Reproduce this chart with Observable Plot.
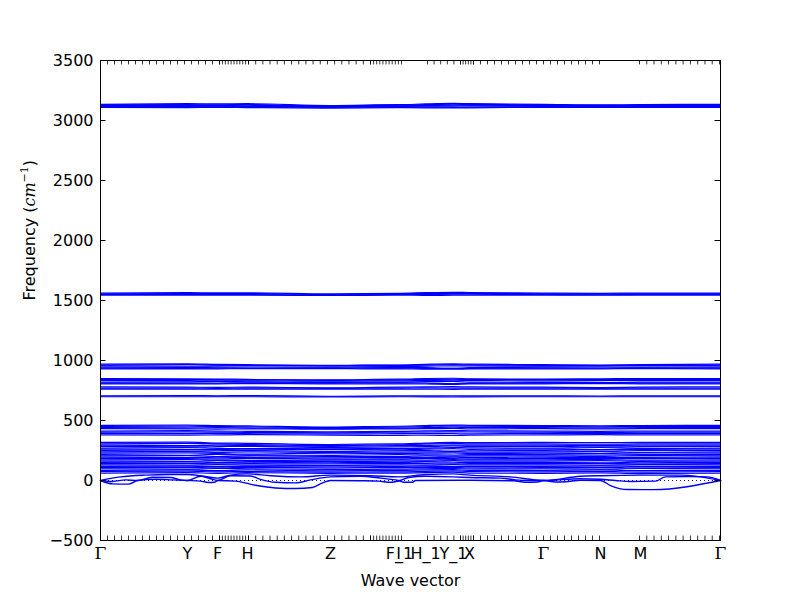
<!DOCTYPE html>
<html><head><meta charset="utf-8">
<script src="https://cdn.jsdelivr.net/npm/d3@7"></script>
<script src="https://cdn.jsdelivr.net/npm/@observablehq/plot@0.6"></script>
<style>body{margin:0;background:#fff}#chart{width:800px;height:600px}</style>
</head><body><div id="chart"></div>
<script>
// high-symmetry points (path distance) and labels
const qPos = [0, 0.87, 1.17, 1.47, 2.30, 2.98, 2.99, 3.25, 3.53, 3.69, 4.43, 5.00, 5.40, 6.20];
const qLabels = ["Γ","Y","F","H","Z","I","F_1","H_1","Y_1","X","Γ","N","M","Γ"];
const yTicks = [-500, 0, 500, 1000, 1500, 2000, 2500, 3000, 3500];
// q-point tick segments: [start, end, intervals]
const tickSegments = [[0,1.19,17],[1.19,1.48,10],[1.48,2.70,17],[2.70,3.01,10],[3.27,3.60,5],[3.60,3.73,5],[3.73,4.99,18],[5.39,6.19,11]];

// band frequencies (cm^-1) at the high-symmetry points
const bandsCH = [
  [3135,3140,3138,3140,3125,3132,3132,3138,3142,3140,3135,3130,3132,3135],
  [3130,3132,3130,3133,3120,3128,3128,3132,3136,3134,3130,3126,3128,3130],
  [3125,3126,3126,3127,3118,3122,3122,3125,3128,3128,3125,3122,3124,3125],
  [3120,3118,3120,3118,3115,3118,3118,3120,3120,3122,3120,3118,3120,3120],
  [3115,3112,3114,3112,3110,3114,3114,3112,3110,3112,3115,3114,3115,3115],
  [3110,3108,3110,3108,3103,3108,3108,3106,3104,3106,3110,3110,3110,3110]
];
const bandsCC = [
  [1562,1565,1563,1564,1555,1560,1560,1565,1568,1566,1562,1560,1562,1562],
  [1556,1558,1557,1558,1550,1555,1555,1558,1560,1560,1556,1554,1556,1556],
  [1550,1550,1550,1550,1546,1550,1550,1550,1552,1552,1550,1548,1550,1550],
  [1545,1544,1545,1544,1542,1545,1545,1543,1544,1545,1545,1544,1545,1545]
];
const bands950 = [
  [970,972,968,965,960,962,962,968,972,970,965,962,965,970],
  [962,965,962,960,958,960,960,962,965,963,960,958,960,962],
  [956,952,955,958,955,950,950,953,956,955,952,955,958,956],
  [945,942,944,946,945,942,942,940,935,940,944,946,945,945],
  [936,935,936,937,938,936,936,935,934,935,936,937,938,936],
  [930,930,931,932,932,930,930,928,928,929,930,931,932,930]
];
const bands820 = [
  [850,848,846,842,838,845,845,850,852,848,845,848,850,850],
  [842,840,840,838,835,838,838,842,845,842,840,840,842,842],
  [835,832,830,830,828,830,830,834,836,834,830,832,835,835],
  [820,822,825,822,818,820,820,824,826,820,818,816,820,820],
  [812,812,812,814,812,814,814,812,808,810,812,814,812,812],
  [805,806,806,808,805,806,806,804,800,804,806,808,806,805]
];
const bands770 = [
  [780,778,776,778,772,778,778,780,782,780,778,775,778,780],
  [770,770,768,770,768,770,770,772,770,770,770,768,770,770],
  [762,762,762,762,762,762,762,762,760,762,762,762,762,762],
  [705,708,706,708,702,705,705,706,706,706,705,704,705,705],
  [698,698,698,698,697,698,698,697,696,697,698,698,698,698]
];
const bands420 = [
  [460,462,458,455,445,452,452,458,462,460,458,455,458,460],
  [450,452,450,448,440,445,445,450,455,452,450,448,450,450],
  [440,438,440,438,432,436,436,440,444,442,440,438,440,440],
  [432,430,428,430,428,430,430,432,434,430,432,430,432,432],
  [412,415,412,410,405,410,410,414,416,414,412,410,412,412],
  [402,405,402,400,398,402,402,404,406,404,402,400,402,402],
  [392,390,392,390,388,390,390,392,390,388,392,390,392,392],
  [380,378,380,382,378,376,376,378,375,378,380,382,380,380]
];
const bandsLow = [
  [318,320,312,310,300,305,305,312,318,315,318,315,318,318],
  [305,310,305,300,292,298,298,305,308,305,305,302,305,305],
  [295,290,295,292,285,290,290,292,296,294,295,292,295,295],
  [285,280,282,285,275,280,280,282,288,285,285,280,282,285],
  [270,275,268,265,270,265,265,270,275,272,270,275,268,270],
  [262,260,258,255,260,255,255,262,265,260,262,258,260,262],
  [250,245,248,250,242,248,248,250,245,248,250,245,250,250],
  [238,242,235,238,235,236,236,238,240,236,238,240,235,238],
  [228,230,225,220,228,225,225,228,230,225,228,225,230,228],
  [215,210,218,212,210,215,215,214,212,215,215,212,215,215],
  [205,208,200,205,200,200,200,205,202,205,205,200,208,205],
  [195,190,195,192,188,192,192,190,195,192,195,190,192,195],
  [185,182,180,185,178,180,180,185,182,180,185,182,185,185],
  [172,175,170,168,170,172,172,170,174,172,172,175,170,172],
  [162,160,165,160,158,162,162,160,165,162,162,165,160,162],
  [150,155,150,152,148,150,150,155,152,150,150,148,152,150],
  [140,142,138,140,138,142,142,140,138,140,140,142,138,140],
  [130,128,132,128,125,130,130,128,132,130,130,128,132,130],
  [118,120,115,118,120,118,118,120,115,118,118,122,118,118],
  [108,110,105,110,105,108,108,110,108,105,108,110,105,108],
  [98,95,100,98,92,95,95,98,100,96,98,95,100,98],
  [85,88,82,88,80,85,85,88,90,85,85,88,82,85],
  [75,78,72,75,70,72,72,76,80,75,72,76,70,75],
  [62,65,60,65,60,62,62,66,70,62,60,64,58,62]
];
// acoustic branches: [q, frequency] pairs
const acoustic1 = [[0,0],[0.12,-28],[0.28,-30],[0.37,0],[0.55,10],[0.72,5],[0.87,0],[1.00,-5],[1.08,-17],[1.14,-15],[1.17,0],[1.35,-5],[1.55,-40],[1.75,-62],[1.95,-67],[2.12,-58],[2.22,-20],[2.30,0],[2.60,-2],[2.78,-5],[2.90,-15],[2.99,-5],[3.03,-15],[3.12,-14],[3.15,0],[3.60,2],[4.13,-2],[4.25,-15],[4.37,-12],[4.43,0],[4.55,-12],[4.65,-10],[4.80,2],[5.00,0],[5.10,-42],[5.27,-75],[5.53,-76],[6.20,0]];
const acoustic2 = [[0,0],[0.12,-8],[0.25,5],[0.37,0],[0.52,27],[0.70,25],[0.80,5],[0.87,0],[1.00,35],[1.10,15],[1.17,0],[1.30,40],[1.50,38],[1.60,10],[1.75,-15],[1.95,-20],[2.10,5],[2.30,30],[2.60,35],[2.80,20],[2.95,5],[2.99,0],[3.08,25],[3.25,35],[3.53,30],[3.69,25],[4.00,20],[4.15,5],[4.30,0],[4.43,0],[4.80,15],[5.00,10],[5.15,0],[5.30,-8],[5.55,-5],[5.65,30],[5.90,33],[6.07,30],[6.20,0]];
const acoustic3 = [[0,0],[0.2,30],[0.45,45],[0.70,50],[0.87,50],[1.00,40],[1.17,20],[1.30,45],[1.47,55],[1.70,40],[2.00,30],[2.30,45],[2.70,40],[2.99,30],[3.25,50],[3.53,55],[3.69,45],[4.10,30],[4.43,0],[4.80,35],[5.00,40],[5.40,45],[5.80,45],[6.20,0]];

const rows = [];
let bid = 0;
for (const group of [bandsCH, bandsCC, bands950, bands820, bands770, bands420, bandsLow]) {
  for (const b of group) { b.forEach((f, i) => rows.push({band: bid, q: qPos[i], f})); bid++; }
}
const acRows = [];
for (const a of [acoustic1, acoustic2, acoustic3]) { a.forEach(([q, f]) => acRows.push({band: bid, q, f})); bid++; }

const xTicks = [];
for (const [s, e, n] of tickSegments) for (let i = 0; i <= n; i++) xTicks.push(s + (e - s) * i / n);

const labelRows = qPos.map((q, i) => ({q, name: qLabels[i]}));
const xDom = [0, 6.2], yDom = [-500, 3500];
const tlx = 5.5 * (xDom[1] - xDom[0]) / 620;   // inward tick length in x units
const tly = 5.5 * (yDom[1] - yDom[0]) / 480;   // inward tick length in y units
const yLabelText = "Frequency (cm-1)";

const svg = Plot.plot({
  width: 800, height: 600,
  marginLeft: 100, marginRight: 80, marginTop: 60, marginBottom: 60,
  style: {fontFamily: "DejaVu Sans, sans-serif", fontSize: "16px", color: "black", background: "white", overflow: "visible"},
  x: {domain: xDom, axis: null},
  y: {domain: yDom},
  marks: [
    Plot.ruleY([0], {stroke: "#0000ff", strokeDasharray: "1,3", strokeWidth: 1}),
    Plot.line(rows, {x: "q", y: "f", z: "band", stroke: "#0000ff", strokeWidth: 1.2, curve: "monotone-x"}),
    Plot.line(acRows, {x: "q", y: "f", z: "band", stroke: "#0000ff", strokeWidth: 1.4, curve: "monotone-x"}),
    Plot.ruleY(yTicks, {x1: xDom[0], x2: xDom[0] + tlx, stroke: "black"}),
    Plot.ruleY(yTicks, {x1: xDom[1] - tlx, x2: xDom[1], stroke: "black"}),
    Plot.ruleX(xTicks, {y1: yDom[0], y2: yDom[0] + tly * 0.8, stroke: "black", strokeWidth: 0.8}),
    Plot.ruleX(xTicks, {y1: yDom[1] - tly * 0.8, y2: yDom[1], stroke: "black", strokeWidth: 0.8}),
    Plot.frame({stroke: "black", strokeWidth: 1}),
    Plot.axisY({ticks: yTicks, tickSize: 0, tickPadding: 7, tickFormat: d3.format("d"), label: null}),
    Plot.text(labelRows.filter(d => d.name !== "Γ"), {x: "q", text: "name", frameAnchor: "bottom", dy: 13, lineAnchor: "middle", fontSize: 16}),
    Plot.text(labelRows.filter(d => d.name === "Γ"), {x: "q", text: "name", frameAnchor: "bottom", dy: 13, lineAnchor: "middle", fontSize: 17, fontFamily: "DejaVu Serif, serif"}),
    Plot.text(["Wave vector"], {frameAnchor: "bottom", dy: 40, lineAnchor: "middle", fontSize: 16}),
    Plot.text([yLabelText], {frameAnchor: "left", dx: -71, rotate: -90, lineAnchor: "middle", fontSize: 16})
  ]
});
document.getElementById("chart").appendChild(svg);

// typeset the y-axis label with italic units and superscript
d3.select(svg).selectAll("text").filter(function () { return this.textContent === yLabelText; }).each(function () {
  const t = d3.select(this);
  t.text(null);
  t.append("tspan").text("Frequency (");
  t.append("tspan").attr("font-style", "italic").attr("font-family", "DejaVu Serif, serif").text("cm");
  t.append("tspan").attr("dy", -7).attr("font-size", 11).attr("font-family", "DejaVu Serif, serif").text("−1");
  t.append("tspan").attr("dy", 7).text(")");
});
</script></body></html>
